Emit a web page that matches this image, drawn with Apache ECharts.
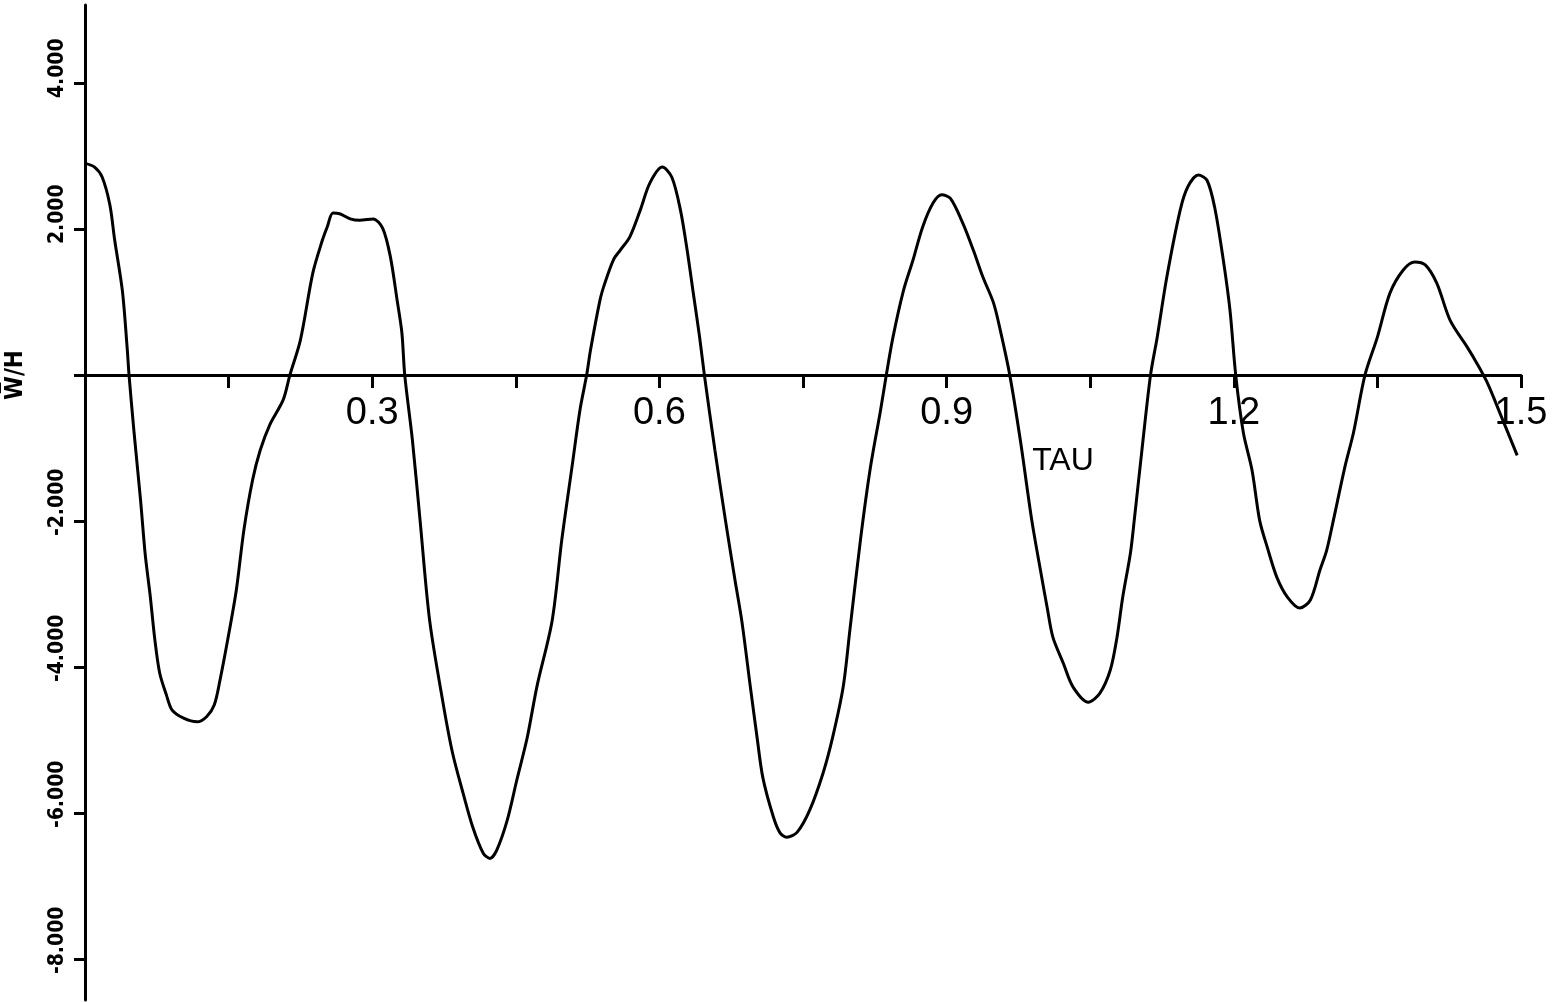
<!DOCTYPE html>
<html>
<head>
<meta charset="utf-8">
<script src="https://cdn.jsdelivr.net/npm/echarts@6/dist/echarts.min.js"></script>
<style>
  html, body { margin: 0; padding: 0; background: #fff; }
  #main { width: 1568px; height: 1002px; }
</style>
</head>
<body>
<div id="main"></div>
<script>
// TAU values
const tau = [
  0, 0.010, 0.018, 0.026, 0.031, 0.039, 0.044, 0.046, 0.051, 0.058,
  0.063, 0.068, 0.073, 0.078, 0.085, 0.091, 0.103, 0.117, 0.127, 0.135,
  0.141, 0.149, 0.158, 0.166, 0.175, 0.183, 0.193, 0.207, 0.214, 0.225,
  0.238, 0.248, 0.253, 0.259, 0.266, 0.277, 0.287, 0.301, 0.311, 0.319,
  0.326, 0.331, 0.334, 0.342, 0.350, 0.360, 0.374, 0.384, 0.395, 0.405,
  0.416, 0.423, 0.430, 0.441, 0.451, 0.462, 0.472, 0.488, 0.498, 0.509,
  0.517, 0.524, 0.528, 0.538, 0.543, 0.552, 0.559, 0.569, 0.580, 0.590,
  0.603, 0.613, 0.622, 0.629, 0.635, 0.642, 0.647, 0.658, 0.669, 0.679,
  0.686, 0.695, 0.702, 0.708, 0.719, 0.726, 0.733, 0.744, 0.757, 0.771,
  0.781, 0.792, 0.799, 0.810, 0.820, 0.831, 0.837, 0.844, 0.855, 0.865,
  0.875, 0.886, 0.895, 0.904, 0.917, 0.928, 0.938, 0.949, 0.956, 0.966,
  0.977, 0.989, 0.998, 1.005, 1.011, 1.022, 1.032, 1.048, 1.060, 1.071,
  1.078, 1.084, 1.092, 1.096, 1.104, 1.113, 1.120, 1.130, 1.144, 1.152,
  1.163, 1.172, 1.180, 1.189, 1.196, 1.202, 1.210, 1.219, 1.227, 1.235,
  1.245, 1.256, 1.269, 1.280, 1.290, 1.297, 1.304, 1.316, 1.325, 1.337,
  1.350, 1.363, 1.377, 1.389, 1.400, 1.412, 1.426, 1.444, 1.454, 1.465,
  1.478, 1.496
];
// W/H values
const wh = [
  2.90, 2.85, 2.71, 2.33, 1.85, 1.16, 0.38, 0, -0.75, -1.71,
  -2.47, -3.01, -3.63, -4.08, -4.38, -4.59, -4.70, -4.75, -4.68, -4.52,
  -4.18, -3.63, -2.95, -2.12, -1.44, -1.03, -0.68, -0.34, 0, 0.48,
  1.40, 1.85, 2.03, 2.22, 2.21, 2.14, 2.12, 2.14, 2.01, 1.62,
  1.03, 0.58, 0, -0.89, -1.99, -3.36, -4.49, -5.18, -5.73, -6.19,
  -6.55, -6.62, -6.51, -6.10, -5.55, -4.96, -4.27, -3.36, -2.26, -1.23,
  -0.48, 0, 0.34, 1.03, 1.26, 1.58, 1.71, 1.89, 2.26, 2.63,
  2.85, 2.71, 2.26, 1.71, 1.16, 0.52, 0, -1.03, -1.99, -2.81,
  -3.36, -4.27, -4.96, -5.51, -6.05, -6.27, -6.33, -6.26, -5.96, -5.45,
  -4.96, -4.27, -3.49, -2.26, -1.30, -0.48, 0, 0.52, 1.16, 1.58,
  2.03, 2.36, 2.47, 2.42, 2.08, 1.71, 1.34, 0.99, 0.62, 0,
  -0.89, -1.99, -2.67, -3.18, -3.59, -3.95, -4.27, -4.48, -4.36, -4.04,
  -3.59, -3.04, -2.44, -1.99, -1.03, 0, 0.52, 1.34, 2.26, 2.58,
  2.74, 2.67, 2.30, 1.58, 0.89, 0, -0.79, -1.30, -1.99, -2.36,
  -2.77, -3.04, -3.19, -3.08, -2.67, -2.40, -1.99, -1.26, -0.79, 0,
  0.52, 1.12, 1.44, 1.55, 1.51, 1.26, 0.75, 0.38, 0.16, -0.11,
  -0.52, -1.10
];
const xLabelTicks = [0.3, 0.6, 0.9, 1.2, 1.5];
const yLabelTicks = [-8, -6, -4, -2, 2, 4];
const yTickValues = [-8, -6, -4, -2, 0, 2, 4];
const yMin = -8.56, yMax = 5.07;

const chart = echarts.init(document.getElementById('main'));

// x axis sits on the zero line: shift it up from the grid bottom
const gridTop = 5, gridBottom = 2;
const plotH = 1002 - gridTop - gridBottom;
const zeroOffset = Math.round(plotH * (0 - yMin) / (yMax - yMin));

const option = {
  backgroundColor: '#fff',
  animation: false,
  grid: { left: 85, right: 47, top: gridTop, bottom: gridBottom, outerBoundsMode: 'none', containLabel: false },
  xAxis: {
    type: 'value',
    min: 0,
    max: 1.5,
    interval: 0.15,
    offset: -zeroOffset,
    splitLine: { show: false },
    axisLine: { onZero: false, lineStyle: { color: '#000', width: 3 } },
    axisTick: { length: 13, lineStyle: { color: '#000', width: 3 } },
    axisLabel: {
      interval: 0,
      margin: 20,
      color: '#000',
      fontSize: 38,
      fontFamily: 'Liberation Sans, Arial, sans-serif',
      formatter: function (v) {
        const hit = xLabelTicks.find(t => Math.abs(t - v) < 1e-6);
        return hit ? hit.toFixed(1) : '';
      }
    }
  },
  yAxis: {
    type: 'value',
    min: yMin,
    max: yMax,
    splitLine: { show: false },
    axisLine: { lineStyle: { color: '#000', width: 3 } },
    axisTick: { length: 11, customValues: yTickValues, lineStyle: { color: '#000', width: 3 } },
    axisLabel: {
      customValues: yLabelTicks,
      rotate: 90,
      align: 'left',
      verticalAlign: 'middle',
      padding: [0, 0, 0, -15],
      margin: 27,
      color: '#000',
      fontSize: 21,
      fontWeight: 'bold',
      fontFamily: 'DejaVu Sans Condensed, Liberation Sans Narrow, sans-serif',
      formatter: v => v.toFixed(3)
    }
  },
  graphic: [
    {
      type: 'text',
      x: 1063, y: 461,
      style: {
        text: 'TAU', fill: '#000', font: '32px "Liberation Sans", Arial, sans-serif',
        align: 'center', verticalAlign: 'middle'
      }
    },
    {
      type: 'text',
      x: 16, y: 375,
      rotation: Math.PI / 2,
      style: {
        text: 'W\u0305/H', fill: '#000',
        font: 'bold 24px "DejaVu Sans Condensed", "Liberation Sans Narrow", sans-serif',
        align: 'center', verticalAlign: 'middle'
      }
    }
  ],
  series: [
    {
      type: 'line',
      data: tau.map((t, i) => [t, wh[i]]),
      smooth: 0.3,
      showSymbol: false,
      lineStyle: { color: '#000', width: 3 }
    }
  ]
};
chart.setOption(option);
</script>
</body>
</html>
